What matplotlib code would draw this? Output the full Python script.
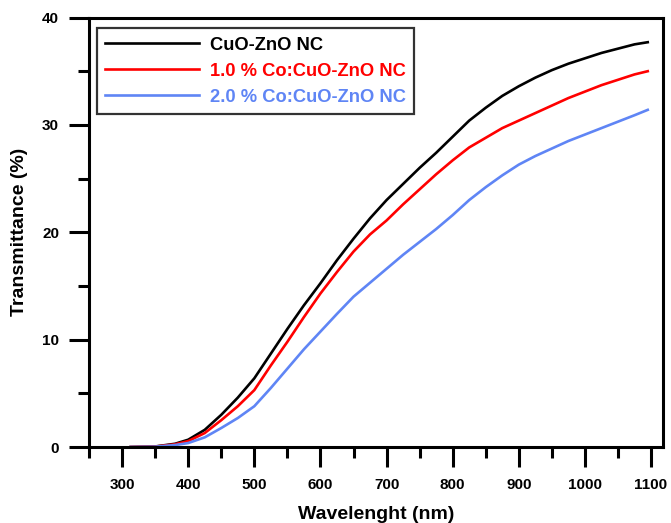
import matplotlib
matplotlib.use("Agg")
import matplotlib.pyplot as plt
from matplotlib.ticker import MultipleLocator

plt.rcParams["font.family"] = ["Liberation Sans", "DejaVu Sans"]
plt.rcParams["font.weight"] = "bold"

# wavelength (nm) and transmittance (%)
wavelength = [313, 350, 380, 400, 425, 450, 475, 500, 525, 550, 575, 600, 625,
              650, 675, 700, 725, 750, 775, 800, 825, 850, 875, 900, 925, 950,
              975, 1000, 1025, 1050, 1075, 1095]
cuo_zno = [0, 0.05, 0.3, 0.68, 1.6, 3.0, 4.6, 6.4, 8.7, 11.0, 13.2, 15.25, 17.4,
           19.4, 21.3, 23.0, 24.5, 26.0, 27.4, 28.9, 30.4, 31.6, 32.7, 33.6, 34.4, 35.1,
           35.7, 36.2, 36.7, 37.1, 37.5, 37.7]
co_10 = [0, 0.04, 0.25, 0.55, 1.3, 2.5, 3.8, 5.3, 7.6, 9.8, 12.1, 14.3, 16.3,
         18.2, 19.8, 21.1, 22.6, 24.0, 25.4, 26.7, 27.9, 28.8, 29.7, 30.4, 31.1, 31.8,
         32.5, 33.1, 33.7, 34.2, 34.7, 35.0]
co_20 = [0, 0.03, 0.18, 0.37, 0.9, 1.77, 2.7, 3.8, 5.5, 7.3, 9.1, 10.75, 12.4,
         14.0, 15.3, 16.6, 17.9, 19.1, 20.3, 21.6, 23.0, 24.2, 25.3, 26.3, 27.1, 27.8,
         28.5, 29.1, 29.7, 30.3, 30.9, 31.4]

labels = ["CuO-ZnO NC", "1.0 % Co:CuO-ZnO NC", "2.0 % Co:CuO-ZnO NC"]
colors = ["#000000", "#ff0000", "#5f85f5"]

fig = plt.figure(figsize=(6.71, 5.23), dpi=100)
ax = fig.add_axes([0.1327, 0.1453, 0.8553, 0.8212])

for ys, lab, c in zip([cuo_zno, co_10, co_20], labels, colors):
    ax.plot(wavelength, ys, color=c, lw=1.9, label=lab)

ax.set_xlim(250, 1118)
ax.set_ylim(0, 40)
ax.xaxis.set_minor_locator(MultipleLocator(50))
ax.yaxis.set_major_locator(MultipleLocator(10))
ax.yaxis.set_minor_locator(MultipleLocator(5))
ax.set_xticks(range(300, 1101, 100))

for s in ax.spines.values():
    s.set_linewidth(2.2)
ax.tick_params(which="major", direction="out", length=14.5, width=2.2,
               labelsize=11, pad=7)
ax.tick_params(which="minor", direction="out", length=8, width=2.2)
ax.tick_params(axis="x", which="major", pad=8)
for t in ax.get_xticklabels() + ax.get_yticklabels():
    t.set_fontweight("bold")

ax.set_xlabel("Wavelenght (nm)", fontsize=14, fontweight="bold", labelpad=10)
ax.set_ylabel("Transmittance (%)", fontsize=14, fontweight="bold", labelpad=10)

leg = ax.legend(loc="upper left", bbox_to_anchor=(0.014, 0.975), borderaxespad=0,
                frameon=True, fancybox=False, edgecolor="black",
                handlelength=5.1, handletextpad=0.6, labelspacing=0.5,
                borderpad=0.45, prop={"weight": "bold", "size": 13.2})
leg.get_frame().set_linewidth(1.6)
for txt, c in zip(leg.get_texts(), colors):
    txt.set_color(c)

fig.savefig("out.png", dpi=100)
